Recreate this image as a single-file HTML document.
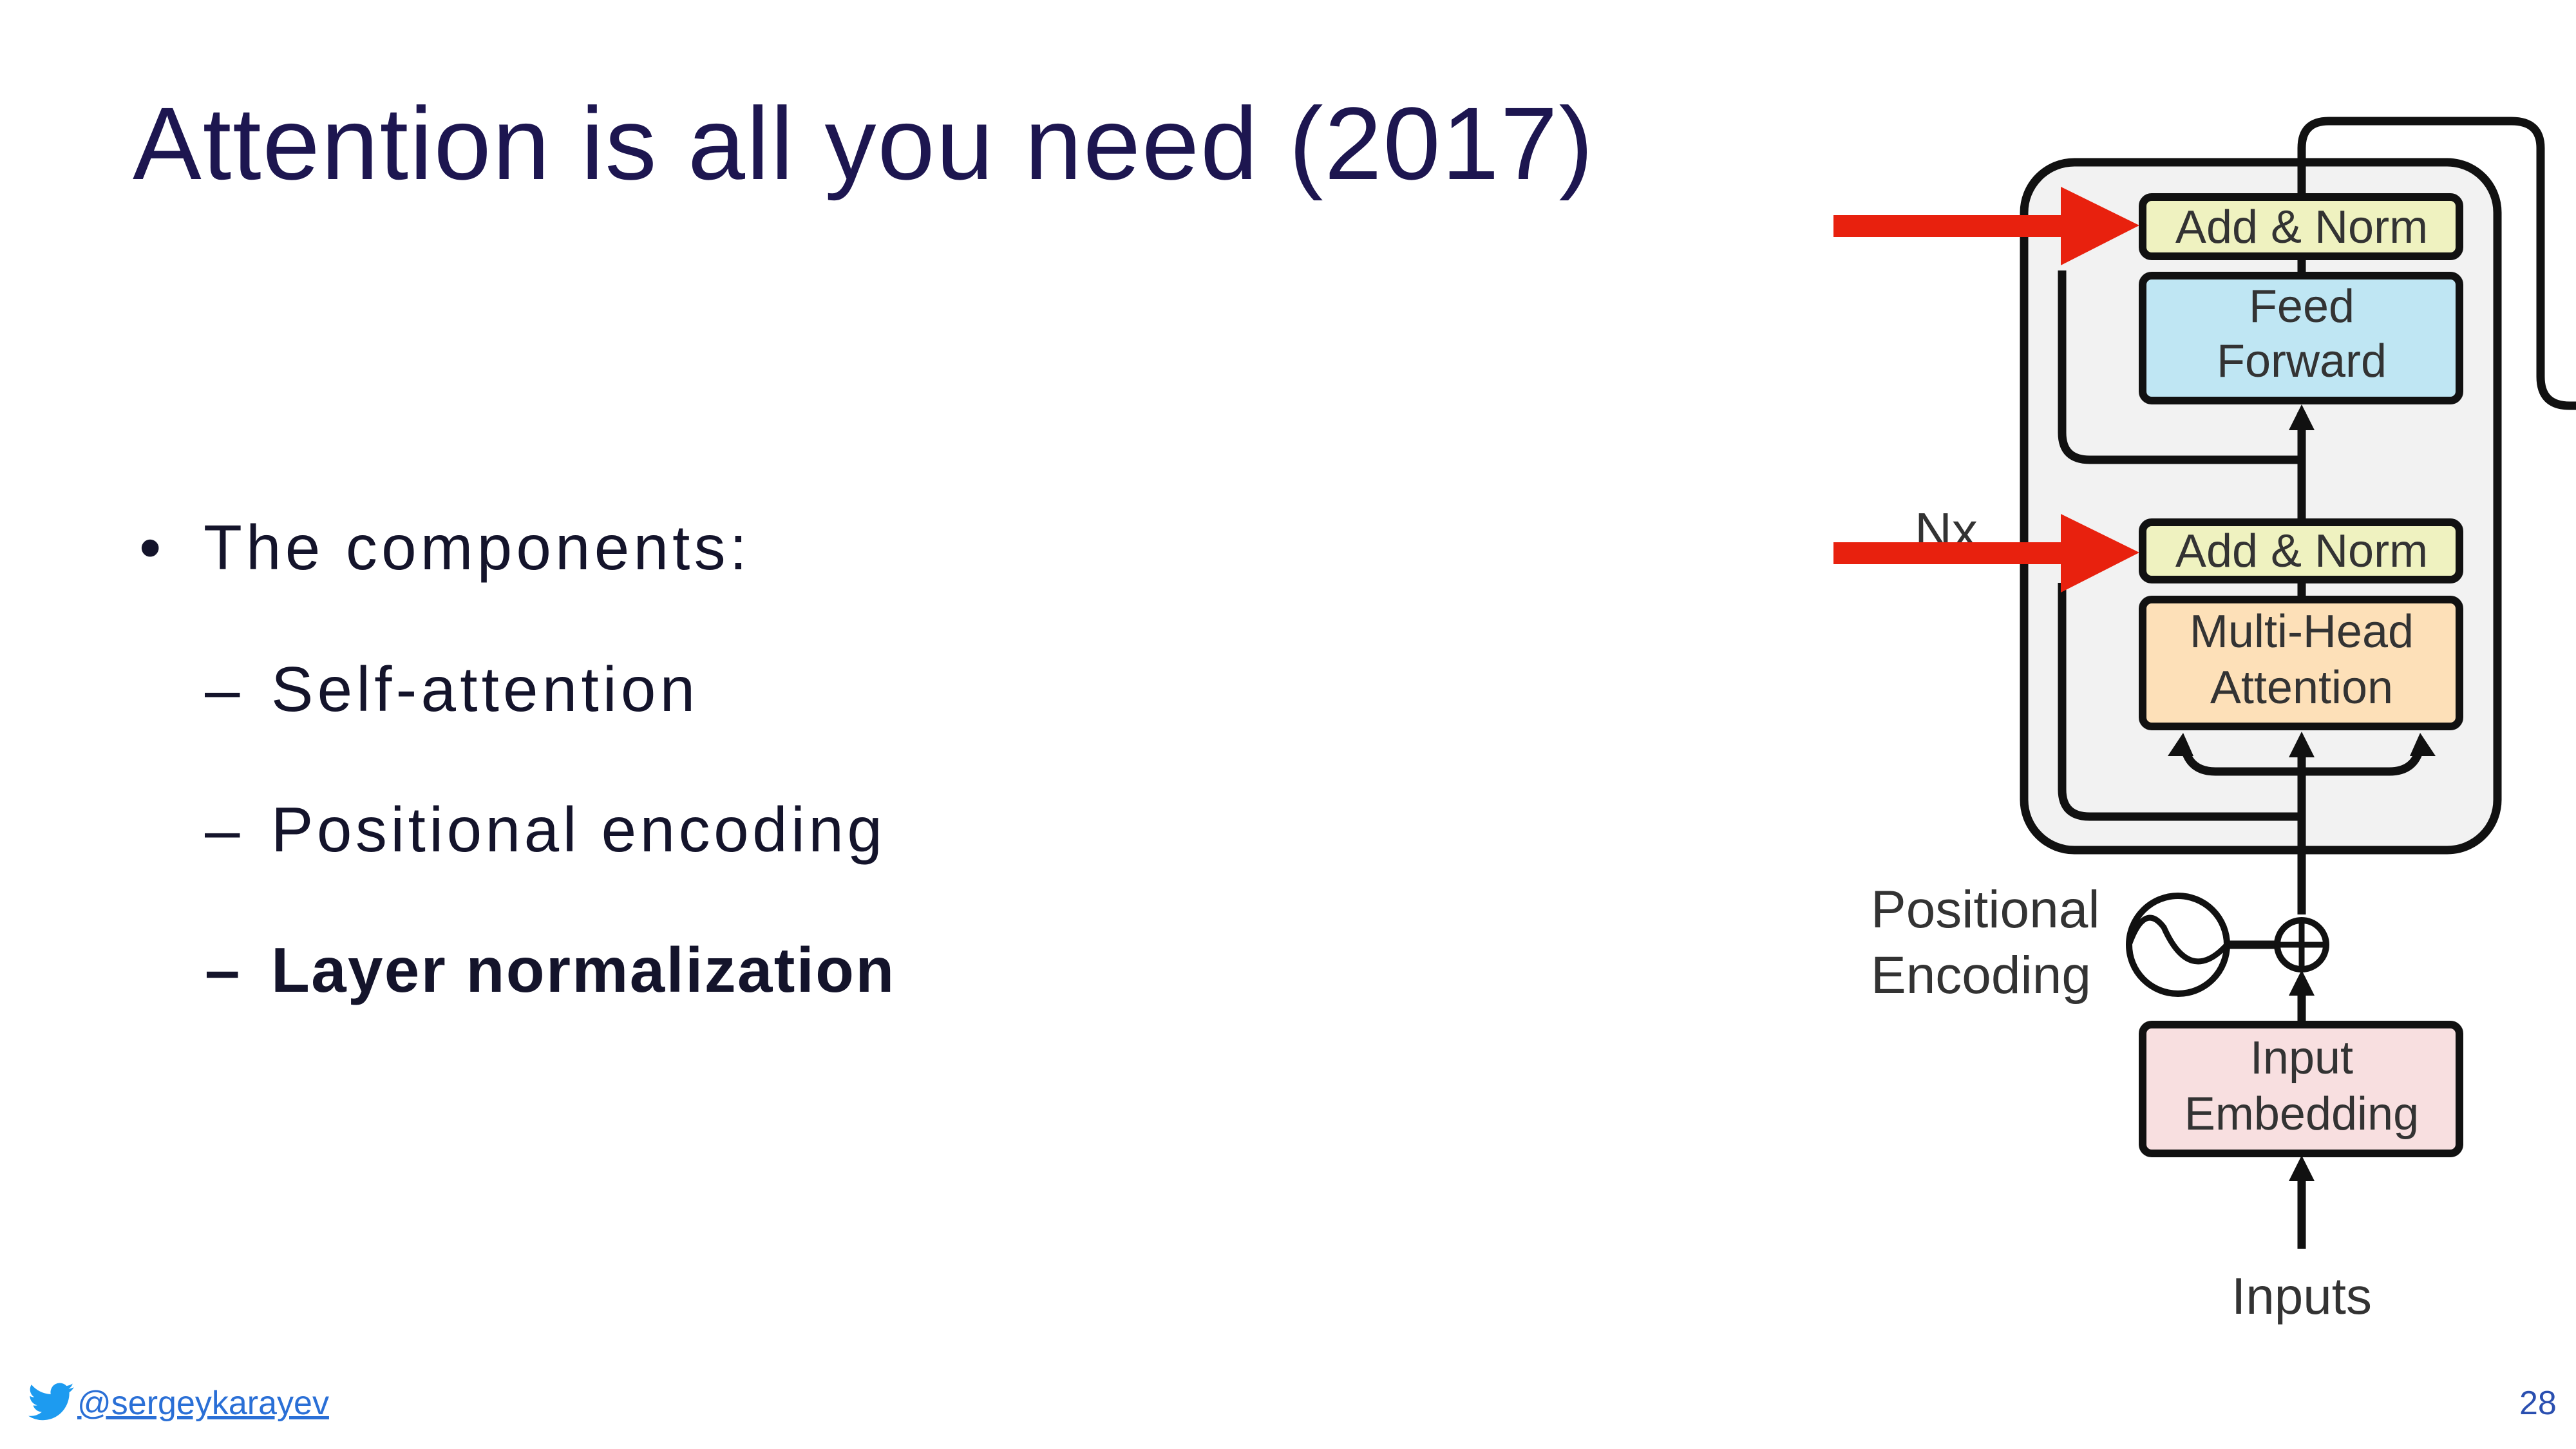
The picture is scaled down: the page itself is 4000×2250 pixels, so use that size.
<!DOCTYPE html>
<html><head><meta charset="utf-8"><style>
html,body{margin:0;padding:0;background:#fff}
body{width:4000px;height:2250px;overflow:hidden;position:relative;font-family:"Liberation Sans",sans-serif}
.t{position:absolute;white-space:nowrap;color:#1d1650}
.b{font-size:98px;line-height:120px;color:#14142b}
</style></head><body>
<div class="t" style="left:206px;top:128px;font-size:160px;line-height:190px;letter-spacing:2px">Attention is all you need (2017)</div>
<div class="t b" style="left:216px;top:790px">•</div>
<div class="t b" style="left:316px;top:790px;letter-spacing:6.2px">The components:</div>
<div class="t b" style="left:318px;top:1010px">–</div>
<div class="t b" style="left:421px;top:1010px;letter-spacing:6.2px">Self-attention</div>
<div class="t b" style="left:318px;top:1228px">–</div>
<div class="t b" style="left:421px;top:1228px;letter-spacing:5.5px">Positional encoding</div>
<div class="t b" style="left:318px;top:1446px;font-weight:bold">–</div>
<div class="t b" style="left:421px;top:1446px;font-weight:bold;letter-spacing:2.3px">Layer normalization</div>
<svg style="position:absolute;left:44px;top:2146px" width="72" height="62" viewBox="0 0 24 20"><path fill="#1d9bf0" d="M23.6 2.4c-.9.4-1.8.6-2.8.8 1-.6 1.800-1.5 2.1-2.7-.9.6-2 1-3.1 1.2A4.8 4.8 0 0 0 11.6 6 13.9 13.9 0 0 1 1.6 1 4.8 4.8 0 0 0 3 7.5c-.8 0-1.5-.2-2.2-.6 0 2.3 1.7 4.3 3.9 4.8-.7.2-1.5.2-2.2.1.6 1.9 2.4 3.3 4.5 3.4A9.7 9.7 0 0 1 0 17.2 13.7 13.7 0 0 0 7.4 19.4c8.9 0 13.8-7.4 13.8-13.800v-.6c1-.7 1.8-1.6 2.4-2.6z"/></svg>
<div class="t" style="left:120px;top:2146px;font-size:52px;line-height:66px;color:#2a6fd6;text-decoration:underline">@sergeykarayev</div>
<div class="t" style="left:3912px;top:2146px;font-size:52px;line-height:66px;color:#2a4fb0">28</div>
<svg style="position:absolute;left:0;top:0" width="4000" height="2250" viewBox="0 0 4000 2250">
<g stroke="#111" stroke-width="13" fill="none">
<rect x="3143" y="252" width="735" height="1068" rx="78" fill="#f2f2f2"/>
<path d="M3574 306 V230 Q3574 188 3616 188 H3900 Q3945 188 3945 230 V585 Q3945 630 3990 630 H4010"/>
<path d="M3574 714 H3245 Q3202 714 3202 672 V420"/>
<path d="M3574 1268 H3245 Q3202 1268 3202 1226 V905"/>
<path d="M3574 1939 V1810"/>
<path d="M3574 1589 V1520"/>
<path d="M3574 1420 V1150"/>
<path d="M3574 811 V640"/>
<path d="M3574 426 V398"/>
<path d="M3574 931 V900"/>
<path d="M3392 1160 Q3400 1198 3440 1198 H3710 Q3750 1198 3758 1160"/>
<path d="M3457 1467 H3536"/>
</g>
<g fill="#111">
<path d="M3574 1136 l-20 40 h40z"/><path d="M3574 1794 l-20 40 h40z"/><path d="M3574 1506 l-20 40 h40z"/><path d="M3574 628 l-20 40 h40z"/>
<path d="M3390 1138 l-24 36 h40z"/><path d="M3758 1138 l-16 36 h40z"/>
</g>
<rect x="3327" y="306" width="492" height="92" rx="14" fill="#eff2c0" stroke="#111" stroke-width="12"/>
<rect x="3327" y="428" width="492" height="194" rx="14" fill="#bfe6f3" stroke="#111" stroke-width="12"/>
<rect x="3327" y="811" width="492" height="89" rx="14" fill="#eff2c0" stroke="#111" stroke-width="12"/>
<rect x="3327" y="931" width="492" height="197" rx="14" fill="#fde0b8" stroke="#111" stroke-width="12"/>
<rect x="3327" y="1591" width="492" height="200" rx="14" fill="#f8dfe0" stroke="#111" stroke-width="12"/>
<circle cx="3382" cy="1467" r="76" fill="#fff" stroke="#111" stroke-width="10"/>
<path d="M3306 1467 Q3330 1400 3360 1440 Q3400 1530 3458 1467" fill="none" stroke="#111" stroke-width="9"/>
<circle cx="3574" cy="1467" r="38" fill="#fff" stroke="#111" stroke-width="10"/>
<path d="M3574 1433 V1501 M3540 1467 H3608" stroke="#111" stroke-width="9"/>
<g font-family="Liberation Sans, sans-serif" font-size="72" fill="#333" text-anchor="middle">
<text x="3574" y="377">Add &amp; Norm</text>
<text x="3574" y="500">Feed</text><text x="3574" y="585">Forward</text>
<text x="3574" y="880">Add &amp; Norm</text>
<text x="3574" y="1005">Multi-Head</text><text x="3574" y="1092">Attention</text>
<text x="3574" y="1667">Input</text><text x="3574" y="1754">Embedding</text>
<text x="3574" y="2040" font-size="80">Inputs</text>
<text x="3022" y="852" font-size="80">Nx</text>
</g>
<g font-family="Liberation Sans, sans-serif" font-size="82" fill="#333">
<text x="2905" y="1440">Positional</text><text x="2905" y="1542">Encoding</text>
</g>
<g fill="#e8210e">
<rect x="2847" y="334" width="360" height="34"/><path d="M3200 290 L3322 350 L3200 412z"/>
<rect x="2847" y="842" width="360" height="34"/><path d="M3200 798 L3322 858 L3200 920z"/>
</g>
</svg>
</body></html>
